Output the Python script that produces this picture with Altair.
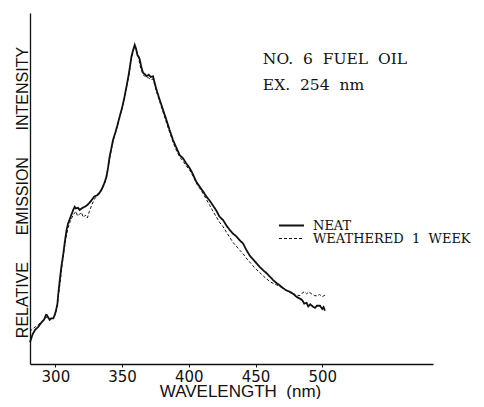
import altair as alt
import pandas as pd

# --- data ---
neat_wl = [281.0, 283.0, 285.0, 287.0, 289.5, 291.5, 293.2, 294.5, 295.7, 297.0, 298.5, 300.0, 301.5, 302.2, 303.2,
           304.5, 306.0, 307.0, 308.3, 309.5, 310.7, 312.0, 313.5, 314.5, 315.5, 317.0, 318.2, 320.0, 322.0, 324.0,
           325.7, 327.0, 328.5, 329.5, 331.0, 333.2, 335.0, 337.0, 338.3, 339.5, 340.7, 342.0, 343.2, 345.0, 346.5,
           348.2, 350.0, 351.5, 353.3, 355.0, 356.0, 357.0, 358.3, 359.5, 360.5, 361.5, 362.5, 363.2, 364.5, 365.7,
           367.0, 368.5, 370.0, 371.5, 373.2, 374.5, 375.8, 378.0, 380.7, 383.0, 385.5, 388.2, 390.5, 393.2, 395.7,
           398.0, 400.7, 403.2, 405.5, 408.2, 411.0, 413.0, 415.7, 418.0, 420.5, 423.0, 425.7, 428.3, 430.5, 433.2,
           435.5, 438.3, 440.7, 443.0, 445.8, 448.0, 450.5, 453.3, 456.0, 458.5, 461.0, 463.2, 466.0, 468.5, 470.7,
           473.0, 475.5, 478.2, 480.5, 483.3, 485.0, 486.5, 488.3, 489.5, 491.0, 493.2, 494.5, 496.0, 498.3, 500.0,
           501.0, 502.0]
neat_int = [6.2, 8.5, 9.8, 10.5, 11.8, 12.6, 14.2, 13.4, 12.6, 13.0, 13.0, 14.5, 17.0, 20.0, 23.5,
            27.7, 31.5, 34.5, 38.0, 40.0, 41.2, 42.5, 44.0, 44.8, 44.3, 44.5, 43.9, 44.4, 44.8, 45.3,
            46.0, 46.6, 47.4, 47.8, 48.0, 48.8, 50.0, 51.8, 53.4, 56.0, 59.1, 61.5, 63.8, 66.0, 68.0,
            70.5, 73.0, 75.5, 79.0, 82.5, 85.0, 87.5, 89.5, 90.9, 89.8, 88.0, 87.5, 86.8, 84.5, 83.0,
            82.6, 82.0, 82.4, 81.8, 82.0, 80.0, 78.1, 75.5, 72.4, 69.8, 66.8, 63.8, 61.8, 59.5, 58.6,
            57.2, 55.8, 54.0, 52.0, 50.5, 49.0, 47.8, 46.5, 45.2, 43.8, 42.0, 41.0, 39.4, 38.3, 37.1,
            36.4, 35.2, 34.3, 32.6, 30.8, 29.9, 28.8, 27.6, 26.6, 25.8, 24.8, 23.9, 23.0, 22.3, 21.6,
            21.0, 20.6, 20.0, 19.2, 18.6, 18.2, 17.2, 17.4, 16.4, 17.0, 16.3, 16.0, 16.6, 16.6, 15.7,
            16.2, 15.2]

weath_wl = [281.0, 283.0, 285.0, 287.5, 289.5, 291.5, 293.2, 295.5, 297.5, 299.5, 301.0, 302.0, 303.5, 305.0, 306.5,
            308.0, 309.5, 311.0, 312.5, 314.0, 315.5, 316.5, 318.0, 319.5, 321.0, 322.5, 324.0, 325.5, 327.0, 329.0,
            331.0, 333.2, 335.0, 337.0, 338.3, 339.5, 340.7, 342.0, 343.2, 345.0, 346.5, 348.2, 350.0, 351.5, 353.3,
            355.0, 356.0, 357.0, 358.3, 359.5, 360.5, 361.5, 362.5, 363.5, 364.5, 365.7, 367.0, 368.5, 370.0, 371.5,
            373.2, 374.5, 375.8, 378.0, 380.7, 383.0, 385.5, 388.2, 390.5, 393.2, 395.7, 398.0, 400.7, 403.2, 405.5,
            408.2, 411.0, 413.0, 415.7, 418.0, 420.5, 423.0, 425.7, 428.3, 430.5, 433.2, 435.5, 438.3, 440.7, 443.0,
            445.8, 448.0, 450.5, 453.3, 456.0, 458.5, 461.0, 463.2, 466.0, 468.5, 470.7, 473.0, 475.5, 478.2, 480.5,
            483.3, 485.0, 486.5, 488.3, 490.0, 492.0, 494.0, 496.0, 498.0, 500.0, 502.0]
weath_int = [9.3, 10.0, 10.6, 11.3, 12.0, 12.6, 13.3, 13.0, 13.0, 13.8, 15.5, 18.5, 23.0, 28.0, 32.5,
             36.0, 38.8, 40.5, 41.8, 42.8, 43.5, 42.2, 42.6, 43.2, 41.8, 42.4, 41.6, 43.5, 45.0, 46.8,
             47.8, 48.5, 49.8, 51.5, 53.0, 55.5, 58.6, 61.2, 63.5, 65.8, 67.8, 70.3, 72.8, 75.3, 78.8,
             82.0, 84.6, 87.0, 89.0, 90.5, 89.6, 88.4, 87.0, 85.0, 83.8, 82.4, 82.0, 81.6, 81.5, 81.0,
             81.2, 79.5, 77.6, 75.0, 71.8, 69.0, 66.2, 63.2, 61.0, 59.0, 57.8, 56.5, 55.2, 53.5, 51.6,
             50.0, 48.4, 47.0, 45.2, 43.6, 42.0, 40.4, 39.1, 37.5, 36.2, 34.6, 33.6, 32.4, 31.4, 30.2,
             29.0, 28.0, 27.0, 26.0, 25.0, 24.2, 23.4, 23.0, 22.5, 22.0, 21.5, 21.0, 20.6, 20.1, 19.6,
             19.5, 20.2, 20.6, 20.0, 20.5, 20.0, 19.5, 19.4, 19.8, 19.2, 19.6]

NB = "\u00a0"
series_names = ["NEAT", "WEATHERED" + NB + NB + "1" + NB + NB + "WEEK"]
x_ticks = [300, 350, 400, 450, 500]
note_lines = ["NO." + NB + NB + "6" + NB + NB + "FUEL" + NB + NB + "OIL", "EX." + NB + NB + "254" + NB + NB + "nm"]
note_x = [455.5, 455.5]
note_y = [85.5, 78.1]

rows = []
for w, v in zip(neat_wl, neat_int):
    rows.append({"wl": w, "val": v, "series": series_names[0], "order": len(rows)})
for w, v in zip(weath_wl, weath_int):
    rows.append({"wl": w, "val": v, "series": series_names[1], "order": len(rows)})
df = pd.DataFrame(rows)
notes = pd.DataFrame({"wl": note_x, "val": note_y, "text": note_lines})

ytitle = "RELATIVE" + NB * 6 + "EMISSION" + NB * 6 + "INTENSITY"

xscale = alt.Scale(domain=[281, 583], nice=False, zero=False)
yscale = alt.Scale(domain=[0, 100], nice=False)

legend_cfg = dict(title=None, orient="none", legendX=248, legendY=207,
                  symbolType="stroke", symbolSize=625, clipHeight=11,
                  symbolStrokeColor="#111", labelFont="DejaVu Serif",
                  labelFontSize=13, labelColor="#111", labelOffset=8,
                  rowPadding=-4, symbolOffset=0, padding=0)

lines = alt.Chart(df).mark_line(color="#111111", interpolate="linear").encode(
    x=alt.X("wl:Q", scale=xscale,
            axis=alt.Axis(values=x_ticks, title="WAVELENGTH" + NB + NB + "(nm)", grid=False,
                          labelFont="DejaVu Sans", labelFontSize=15, labelColor="#111",
                          labelPadding=2, tickSize=3, tickColor="#111",
                          domainColor="#111", domainWidth=1.3,
                          titleFont="Liberation Sans", titleFontSize=17, titleFontWeight="normal",
                          titleColor="#111", titlePadding=-1, titleX=210)),
    y=alt.Y("val:Q", scale=yscale,
            axis=alt.Axis(labels=False, ticks=False, grid=False, title=ytitle,
                          domainColor="#111", domainWidth=1.3,
                          titleFont="Liberation Sans", titleFontSize=16, titleFontWeight="normal",
                          titleColor="#111", titlePadding=0, titleY=179)),
    strokeDash=alt.StrokeDash("series:N", scale=alt.Scale(domain=series_names, range=[[1, 0], [3, 2]]),
                              legend=alt.Legend(**legend_cfg)),
    strokeWidth=alt.StrokeWidth("series:N", scale=alt.Scale(domain=series_names, range=[1.8, 1.0]),
                                legend=alt.Legend(**legend_cfg)),
    order="order:Q",
)

note = alt.Chart(notes).mark_text(align="left", baseline="alphabetic", font="DejaVu Serif",
                                  fontSize=15.5, color="#111").encode(
    x=alt.X("wl:Q", scale=xscale), y=alt.Y("val:Q", scale=yscale), text="text:N")

chart = alt.layer(lines, note).properties(
    width=403, height=351,
    autosize=alt.AutoSizeParams(type="none"),
    padding={"left": 22, "top": 5, "right": 43, "bottom": 35},
).configure_view(stroke=None)

chart.save("out.html", embed_options={"renderer": "svg", "actions": False})
